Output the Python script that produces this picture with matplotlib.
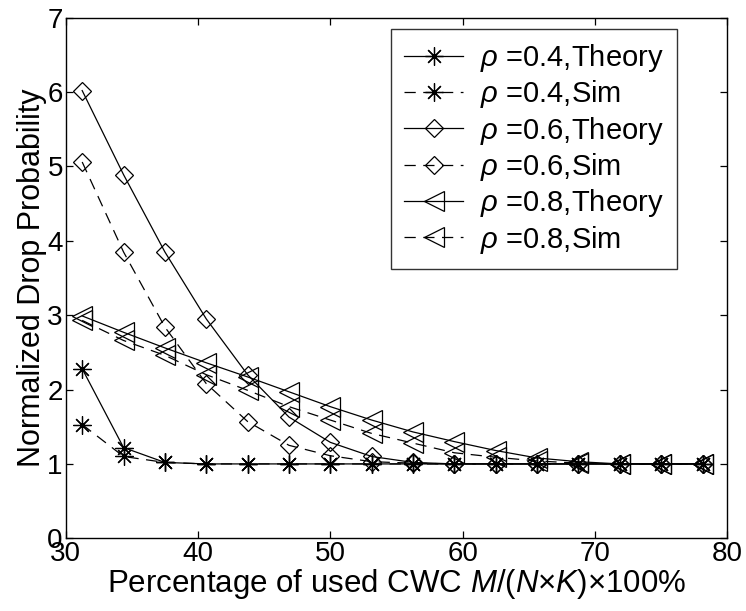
import matplotlib
matplotlib.use("Agg")
import matplotlib.pyplot as plt

plt.rcParams["font.family"] = ["Liberation Sans", "DejaVu Sans"]
plt.rcParams["mathtext.fontset"] = "custom"
plt.rcParams["mathtext.rm"] = "Liberation Sans"
plt.rcParams["mathtext.it"] = "Liberation Sans:italic"

# used CWC percentage, M/(N*K)*100 with N*K = 32
x = [31.25, 34.375, 37.5, 40.625, 43.75, 46.875, 50.0, 53.125,
     56.25, 59.375, 62.5, 65.625, 68.75, 71.875, 75.0, 78.125]

rho04_theory = [2.28, 1.22, 1.02, 1.0, 1.0, 1.0, 1.0, 1.0,
                1.0, 1.0, 1.0, 1.0, 1.0, 1.0, 1.0, 1.0]
rho04_sim = [1.53, 1.10, 1.02, 1.0, 1.0, 1.0, 1.0, 1.0,
             1.0, 1.0, 1.0, 1.0, 1.0, 1.0, 1.0, 1.0]
rho06_theory = [6.02, 4.89, 3.85, 2.95, 2.20, 1.63, 1.29, 1.10,
                1.02, 1.0, 1.0, 1.0, 1.0, 1.0, 1.0, 1.0]
rho06_sim = [5.06, 3.85, 2.84, 2.08, 1.57, 1.25, 1.11, 1.03,
             1.01, 1.0, 1.0, 1.0, 1.0, 1.0, 1.0, 1.0]
rho08_theory = [2.99, 2.77, 2.56, 2.36, 2.17, 1.97, 1.77, 1.59,
                1.43, 1.30, 1.18, 1.08, 1.03, 1.0, 1.0, 1.0]
rho08_sim = [2.93, 2.66, 2.46, 2.20, 1.99, 1.77, 1.59, 1.41,
             1.28, 1.15, 1.09, 1.04, 1.01, 1.0, 1.0, 1.0]

asterisk = (8, 2, 0)  # matlab-style '*' (plus + cross)
series = [
    (rho04_theory, asterisk, "-", r"$\rho$ =0.4,Theory"),
    (rho04_sim, asterisk, "--", r"$\rho$ =0.4,Sim"),
    (rho06_theory, "D", "-", r"$\rho$ =0.6,Theory"),
    (rho06_sim, "D", "--", r"$\rho$ =0.6,Sim"),
    (rho08_theory, "<", "-", r"$\rho$ =0.8,Theory"),
    (rho08_sim, "<", "--", r"$\rho$ =0.8,Sim"),
]
sizes = {asterisk: 13, "D": 9, "<": 14}

fig = plt.figure(figsize=(7.46, 6.11), dpi=100)
ax = fig.add_axes([0.088, 0.119, 0.887, 0.852])

for y, mk, ls, lab in series:
    line, = ax.plot(x, y, color="black", linestyle=ls, linewidth=0.9,
                    marker=mk, markersize=sizes[mk],
                    markerfacecolor="none", markeredgecolor="black",
                    markeredgewidth=0.9, label=lab)
    if ls == "--":
        line.set_dashes((9, 6))

ax.set_xlim(30, 80)
ax.set_ylim(0, 7)
ax.set_xticks([30, 40, 50, 60, 70, 80])
ax.set_yticks(range(0, 8))
ax.tick_params(direction="in", top=True, right=True, labelsize=20,
               length=5, width=0.9, pad=2)
for s in ax.spines.values():
    s.set_linewidth(1.0)

ax.set_xlabel(r"Percentage of used CWC $\mathit{M/(N{\times}K){\times}100\%}$",
              fontsize=22.5, labelpad=0)
ax.set_ylabel("Normalized Drop Probability", fontsize=22, labelpad=0)

leg = ax.legend(loc="upper right", fontsize=21, frameon=True, fancybox=False,
                edgecolor="black", handlelength=2.0, borderpad=0.45,
                labelspacing=0.15, handletextpad=0.6, borderaxespad=0,
                bbox_to_anchor=(0.924, 0.979))
leg.get_frame().set_linewidth(1.0)

fig.savefig("out.png", dpi=100)
